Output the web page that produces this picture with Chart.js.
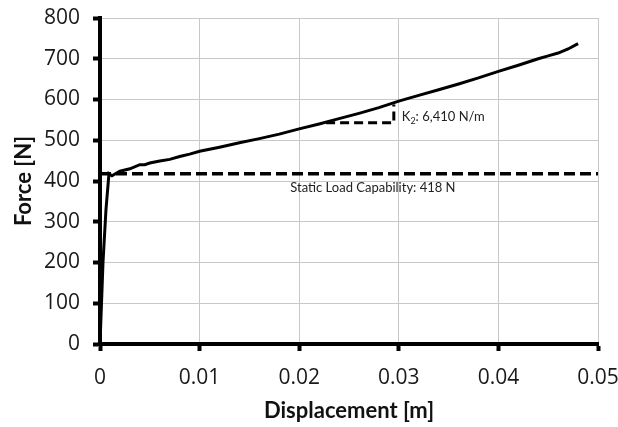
<!DOCTYPE html>
<html>
<head>
<meta charset="utf-8">
<script src="https://cdn.jsdelivr.net/npm/chart.js@4.4.1/dist/chart.umd.min.js"></script>
<style>
  html, body { margin: 0; padding: 0; background: #fff; }
  #wrap { width: 618px; height: 427px; }
</style>
</head>
<body>
<div id="wrap"><canvas id="chart" width="618" height="427"></canvas></div>
<script>
const dispM = [0, 0.0003, 0.0006, 0.0009, 0.0012, 0.002, 0.003, 0.004, 0.0045, 0.005, 0.006, 0.007, 0.008, 0.009,
  0.010, 0.012, 0.014, 0.016, 0.018, 0.020, 0.022, 0.024, 0.026, 0.028, 0.030,
  0.032, 0.034, 0.036, 0.038, 0.040, 0.042, 0.044, 0.045, 0.046, 0.047, 0.048];
const forceN = [0, 200, 330, 418, 413, 424, 430, 440, 440, 444, 449, 453, 460, 466,
  473, 483, 494, 504, 515, 528, 540, 553, 566, 580, 596,
  610, 624, 638, 653, 669, 684, 700, 707, 714, 724, 737];

// static load capability line
const staticX = [0, 0.05];
const staticLoad = 418;

// K2 slope triangle
const k2X = [0.0227, 0.0295, 0.0295];
const k2Y = [543, 543, 588];

const xTicks = [0, 0.01, 0.02, 0.03, 0.04, 0.05];

const FONT = 'Lato, "Open Sans", sans-serif';
const TICK_FONT = '"Open Sans", Lato, sans-serif';

function pts(xs, ys) {
  return xs.map((x, i) => ({ x: x, y: ys[i] }));
}

const labelPlugin = {
  id: 'notes',
  afterDatasetsDraw(chart) {
    const { ctx, scales: { x, y } } = chart;
    ctx.save();
    ctx.fillStyle = '#222';
    ctx.textBaseline = 'middle';
    ctx.font = '13px ' + FONT;
    // K2 label with subscript
    let px = x.getPixelForValue(0.0303);
    let py = y.getPixelForValue(558);
    ctx.textAlign = 'left';
    ctx.fillText('K', px, py);
    let w = ctx.measureText('K').width;
    ctx.font = '9px ' + FONT;
    ctx.fillText('2', px + w, py + 4);
    let w2 = ctx.measureText('2').width;
    ctx.font = '13px ' + FONT;
    ctx.fillText(': 6,410 N/m', px + w + w2, py);
    // static load label
    ctx.textAlign = 'center';
    ctx.fillText('Static Load Capability: 418 N', x.getPixelForValue(0.0274), y.getPixelForValue(383));
    ctx.restore();
  }
};

new Chart(document.getElementById('chart'), {
  type: 'scatter',
  data: {
    datasets: [
      {
        data: pts(dispM, forceN),
        showLine: true,
        borderColor: '#000',
        borderWidth: 3,
        pointRadius: 0,
        tension: 0
      },
      {
        data: pts(staticX, staticX.map(() => staticLoad)),
        showLine: true,
        borderColor: '#000',
        borderWidth: 3.5,
        borderDash: [11, 5],
        pointRadius: 0
      },
      {
        data: pts(k2X, k2Y),
        showLine: true,
        borderColor: '#000',
        borderWidth: 3,
        borderDash: [9, 5],
        pointRadius: 0
      }
    ]
  },
  options: {
    responsive: false,
    animation: false,
    layout: { padding: { top: 18, right: 20, left: 4, bottom: 0 } },
    plugins: {
      legend: { display: false },
      tooltip: { enabled: false }
    },
    scales: {
      x: {
        type: 'linear',
        min: 0,
        max: 0.05,
        afterBuildTicks: (s) => { s.ticks = xTicks.map(v => ({ value: v })); },
        afterFit: (s) => { s.height = 83; s.paddingLeft = 0; s.paddingRight = 0; },
        border: { display: true, color: '#000', width: 4 },
        grid: { color: '#c8c8c8', lineWidth: 1, tickColor: '#000', tickWidth: 4, tickLength: 7 },
        ticks: {
          color: '#1a1a1a',
          font: { family: TICK_FONT, size: 21 },
          padding: 14,
          maxRotation: 0,
          callback: (v) => String(v)
        },
        title: {
          display: true,
          text: 'Displacement [m]',
          color: '#111',
          font: { family: FONT, size: 22, weight: 'bold' },
          padding: { top: 2, bottom: 3 }
        }
      },
      y: {
        min: 0,
        max: 800,
        afterFit: (s) => { s.width = 96; s.paddingTop = 0; s.paddingBottom = 0; },
        border: { display: true, color: '#000', width: 4 },
        grid: { color: '#c8c8c8', lineWidth: 1, tickColor: '#000', tickWidth: 4, tickLength: 7 },
        ticks: {
          stepSize: 100,
          color: '#1a1a1a',
          font: { family: TICK_FONT, size: 21 },
          padding: 13
        },
        title: {
          display: true,
          text: 'Force [N]',
          color: '#111',
          font: { family: FONT, size: 22, weight: 'bold' },
          padding: { top: 7, bottom: 0 }
        }
      }
    }
  },
  plugins: [labelPlugin]
});
</script>
</body>
</html>
